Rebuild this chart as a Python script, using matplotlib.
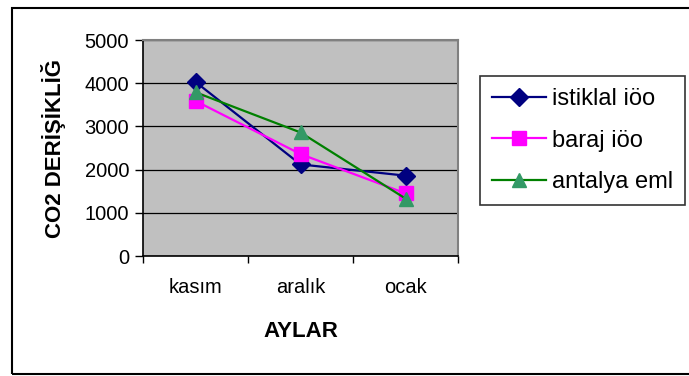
import matplotlib.pyplot as plt
from matplotlib.patches import Rectangle
import numpy as np

plt.rcParams['font.family'] = ['Liberation Sans', 'DejaVu Sans']

months = ["kasım", "aralık", "ocak"]
istiklal = [4030, 2120, 1860]
baraj = [3590, 2360, 1450]
antalya = [3790, 2860, 1330]

fig = plt.figure(figsize=(6.89, 3.76), dpi=100)
ax = fig.add_axes([143 / 689, 1 - 256 / 376, 315 / 689, 216 / 376])
ax.set_facecolor("#C0C0C0")

x = np.arange(len(months)) + 0.5
ax.plot(x, istiklal, color="#000080", lw=1.6, marker="D", ms=9,
        mfc="#000080", mec="#000080", label="istiklal iöo", zorder=3)
ax.plot(x, baraj, color="#FF00FF", lw=1.6, marker="s", ms=10,
        mfc="#FF00FF", mec="#FF00FF", label="baraj iöo", zorder=3)
ax.plot(x, antalya, color="#008000", lw=1.6, marker="^", ms=10.5,
        mfc="#339966", mec="#339966", label="antalya eml", zorder=3)

ax.set_xlim(0, 3)
ax.set_ylim(0, 5000)
ax.set_yticks(np.arange(0, 5001, 1000))
ax.yaxis.grid(True, color="black", lw=0.9)
ax.set_axisbelow(True)

# category names sit between the boundary ticks
ax.set_xticks([0, 1, 2, 3])
ax.set_xticklabels([])
ax.set_xticks(x, minor=True)
ax.set_xticklabels(months, minor=True)
ax.tick_params(axis="x", which="minor", length=0, pad=16, labelsize=14.5)
ax.tick_params(axis="x", which="major", length=5, direction="out", width=1)
ax.tick_params(axis="y", length=6, direction="out", pad=4, labelsize=14.5, width=1)

for side in ["top", "right"]:
    ax.spines[side].set_color("#808080")
    ax.spines[side].set_linewidth(1.5)
for side in ["left", "bottom"]:
    ax.spines[side].set_color("black")
    ax.spines[side].set_linewidth(1.2)

ax.set_xlabel("AYLAR", fontsize=16, fontweight="bold", labelpad=17)
ax.set_ylabel("CO2 DERİŞİKLİĞ", fontsize=16, fontweight="bold", labelpad=13)

leg = fig.legend(loc="upper left", bbox_to_anchor=(480 / 689, 1 - 76 / 376),
                 fontsize=17, frameon=True, fancybox=False, edgecolor="black",
                 handlelength=2.3, handletextpad=0.25, labelspacing=0.84,
                 borderpad=0.5, borderaxespad=0)
leg.get_frame().set_linewidth(1.2)

# outer chart border
fig.patches.append(Rectangle((12 / 689, 2 / 376), 700 / 689, 366 / 376,
                             transform=fig.transFigure, fill=False,
                             edgecolor="black", lw=1.5))

fig.savefig("out.png", dpi=100)
